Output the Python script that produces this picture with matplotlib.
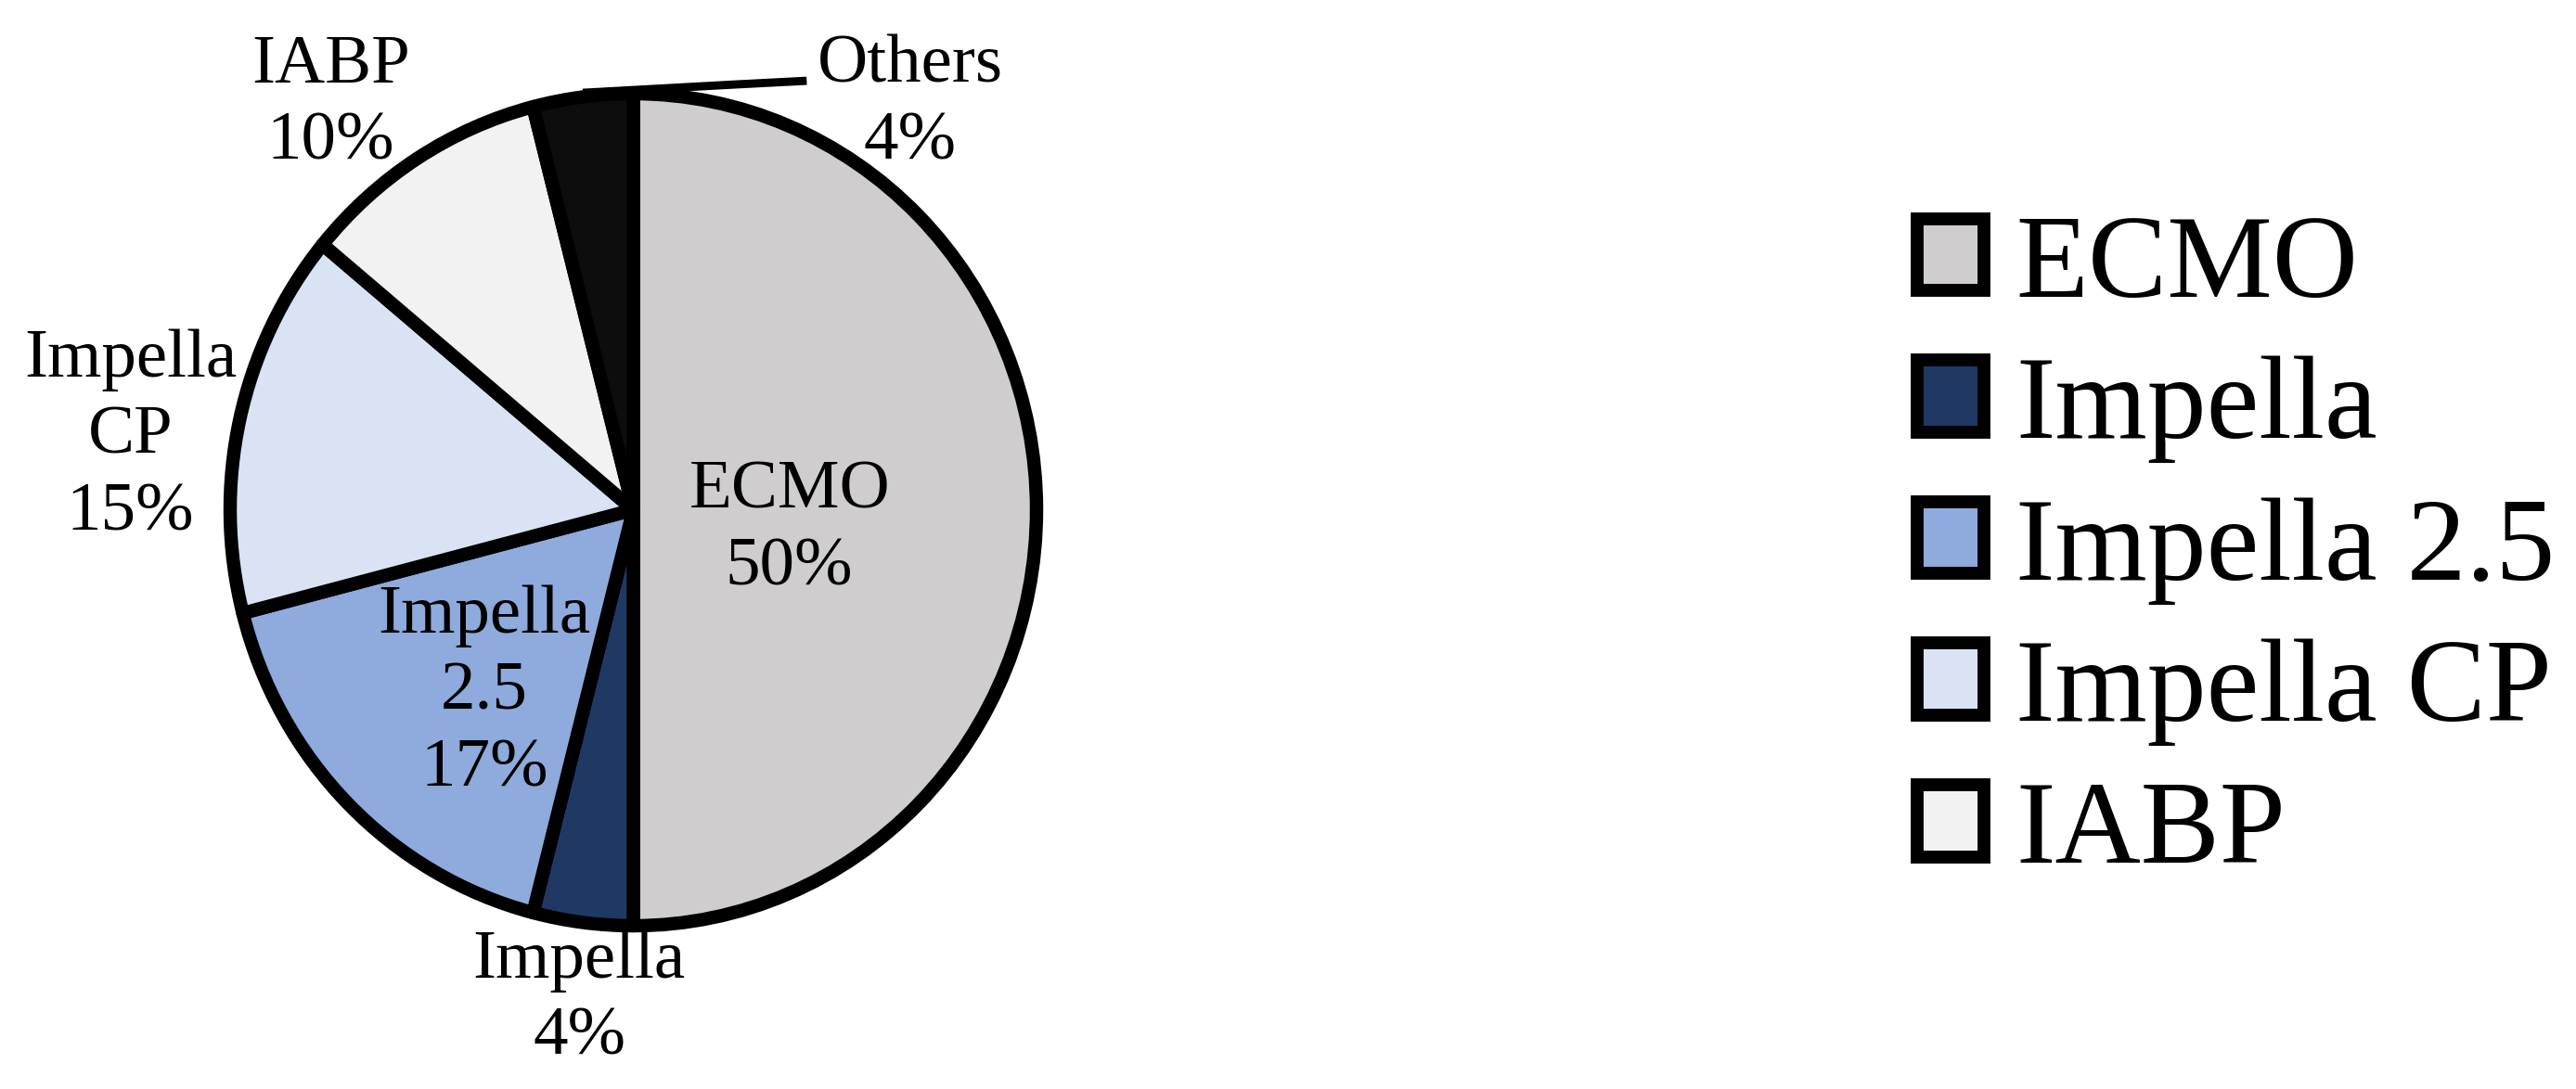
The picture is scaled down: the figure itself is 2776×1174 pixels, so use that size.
import numpy as np
import matplotlib
matplotlib.use("Agg")
import matplotlib.pyplot as plt
from matplotlib.patches import Patch

categories = ["ECMO", "Impella", "Impella 2.5", "Impella CP", "IABP", "Others"]
values = [50, 4, 17, 15, 10, 4]
label_texts = ["ECMO\n50%", "Impella\n4%", "Impella\n2.5\n17%", "Impella\nCP\n15%", "IABP\n10%", "Others\n4%"]
colors = ["#CFCDCE", "#203864", "#8FAADC", "#DAE3F3", "#F2F2F2", "#0D0D0D"]
legend_items = ["ECMO", "Impella", "Impella 2.5", "Impella CP", "IABP"]

# label placement (radius factor, angle offset in degrees from wedge mid)
label_r = [0.39, 1.185, 0.575, 1.26, 1.23, None]
label_dang = [-7, 0.7, 5, 4.6, 5.2, 0]

plt.rcParams["font.family"] = ["Liberation Serif", "DejaVu Serif"]

W, H, DPI = 2776, 1174, 200
fig = plt.figure(figsize=(W / DPI, H / DPI), dpi=DPI)

# pie bounding box in pixels
px0, px1, py0, py1 = 248, 1117, 101, 998
ax = fig.add_axes([px0 / W, 1 - py1 / H, (px1 - px0) / W, (py1 - py0) / H])

wedges, _ = ax.pie(values, colors=colors, startangle=90, counterclock=False,
                   wedgeprops=dict(edgecolor="black", linewidth=5.2,
                                   joinstyle="round"),
                   radius=1.0)
ax.set_aspect("auto")
ax.set_xlim(-1, 1)
ax.set_ylim(-1, 1)
ax.axis("off")

fs = 27
ls = 1.3
for i, w in enumerate(wedges):
    mid = (w.theta1 + w.theta2) / 2.0
    if categories[i] == "Others":
        rad = np.deg2rad(mid)
        x0, y0 = np.cos(rad), np.sin(rad)
        ax.plot([x0, 0.25, 0.43], [y0 + 0.01, 1.022, 1.031], color="black",
                lw=3.2, clip_on=False, solid_capstyle="butt")
        ax.text(0.686, 0.975, label_texts[i], ha="center", va="center",
                fontsize=fs, linespacing=ls)
        continue
    a = np.deg2rad(mid + label_dang[i])
    r = label_r[i]
    ax.text(r * np.cos(a), r * np.sin(a), label_texts[i], ha="center",
            va="center", fontsize=fs, linespacing=ls)

handles = [Patch(facecolor=colors[categories.index(n)], edgecolor="black",
                 linewidth=5.0, joinstyle="round") for n in legend_items]
fig.legend(handles, legend_items, loc="center left",
           bbox_to_anchor=(2066 / W, 1 - 594 / H), frameon=False,
           fontsize=46, handlelength=0.56, handleheight=0.56,
           handletextpad=0.27, labelspacing=0.29, borderpad=0,
           borderaxespad=0)

fig.savefig("out.png", dpi=DPI)
